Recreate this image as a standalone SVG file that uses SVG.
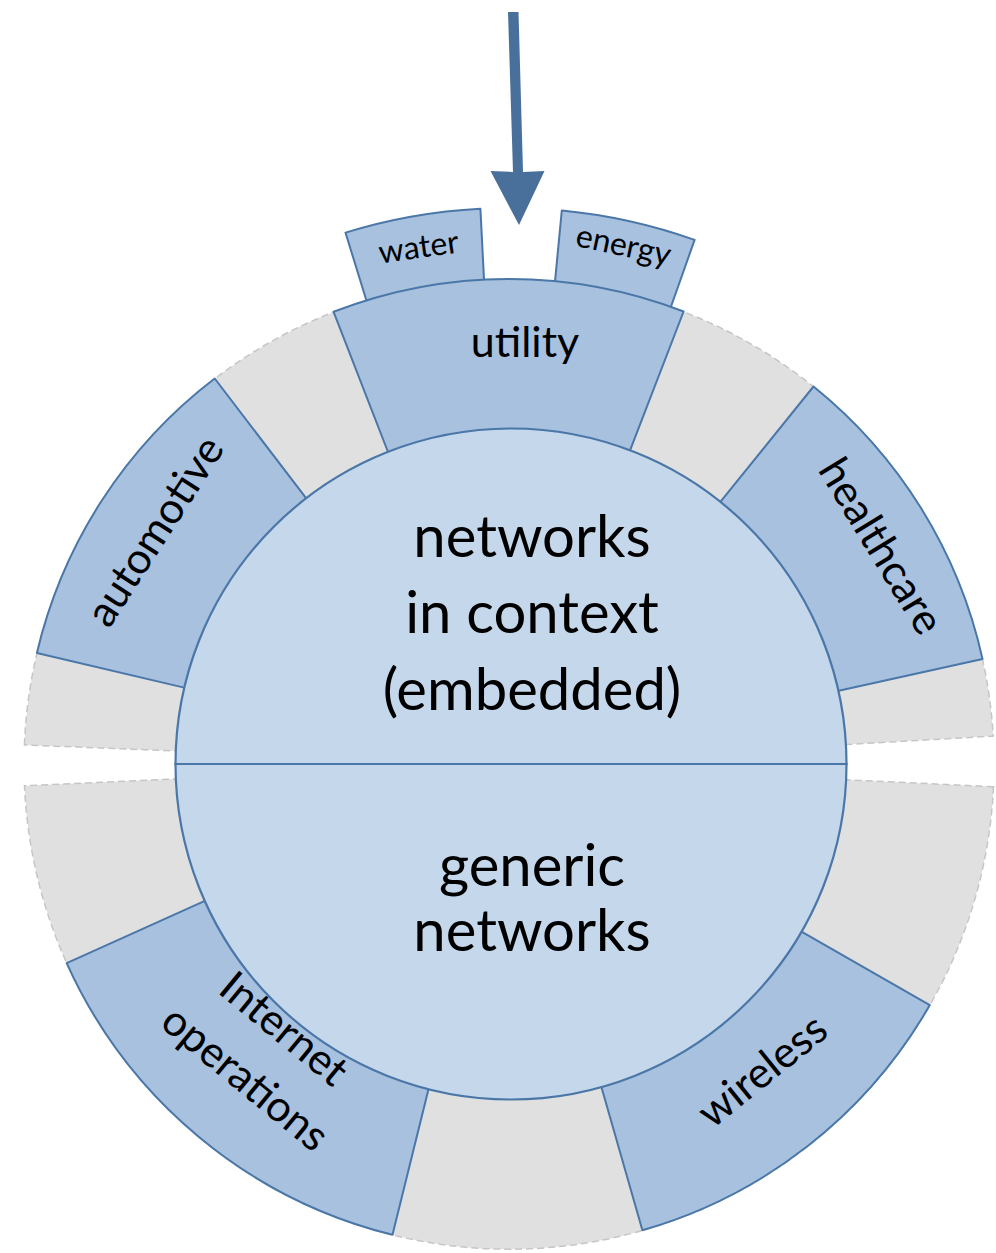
<svg xmlns="http://www.w3.org/2000/svg" width="996" height="1253" viewBox="0 0 996 1253">
<style>
.gray{fill:#e0e0e0;stroke:#c6c6c6;stroke-width:1.5;stroke-dasharray:7 4}
.seg{fill:#a7c1df;stroke:#4a77a8;stroke-width:2;stroke-linejoin:round}
.core{fill:#c5d7eb;stroke:#4a77a8;stroke-width:2.2}
.lbl{font-family:Lato,"Open Sans","Liberation Sans",sans-serif;fill:#000;text-anchor:middle}
.big{font-size:58px}
.mid{font-size:43px}
.sm{font-size:32px}
.arrow{fill:#48709a;stroke:none}
</style>
<rect width="996" height="1253" fill="#fff"/>
<g id="ring-top"><path class="gray" d="M 24.4 745.0 A 485 485 0 0 1 993.2 736.1 L 833.5 745.3 A 325 325 0 0 0 184.25 751.3 Z"/></g>
<g id="ring-bottom"><path class="gray" d="M 993.5 786.7 A 485 485 0 0 1 24.5 785.7 L 184.3 778.5 A 325 325 0 0 0 833.6 779.2 Z"/></g>
<g id="water">
<path class="seg" d="M 345.5 232.6 A 556 556 0 0 1 480.4 208.7 L 484.8 294.6 A 470 470 0 0 0 370.8 314.8 Z"/>
<text class="lbl sm" transform="translate(419,250) rotate(-8)" x="0" y="8">water</text>
</g>
<g id="energy">
<path class="seg" d="M 561.8 210.5 A 556 556 0 0 1 694.6 239.9 L 665.9 321.0 A 470 470 0 0 0 553.6 296.1 Z"/>
<text class="lbl sm" transform="translate(623,248) rotate(12)" x="0" y="8">energy</text>
</g>
<g id="utility">
<path class="seg" d="M 333.6 311.8 A 485 485 0 0 1 683.6 311.5 L 626.0 460.8 A 325 325 0 0 0 391.5 461.0 Z"/>
<text class="lbl mid" x="525" y="357">utility</text>
</g>
<g id="automotive">
<path class="seg" d="M 36.9 653.0 A 485 485 0 0 1 214.7 378.5 L 311.8 505.7 A 325 325 0 0 0 192.6 689.6 Z"/>
<text class="lbl mid" transform="translate(158,533) rotate(-57.2)" x="0" y="11">automotive</text>
</g>
<g id="healthcare">
<path class="seg" d="M 813.5 386.5 A 485 485 0 0 1 982.5 658.9 L 826.3 693.5 A 325 325 0 0 0 713.0 511.0 Z"/>
<text class="lbl mid" transform="translate(878,548) rotate(58.5)" x="0" y="11">healthcare</text>
</g>
<g id="wireless">
<path class="seg" d="M 929.8 1005.1 A 485 485 0 0 1 642.4 1230.3 L 598.4 1076.5 A 325 325 0 0 0 791.0 925.6 Z"/>
<text class="lbl mid" transform="translate(764.5,1073.3) rotate(-38.8)" x="0" y="11">wireless</text>
</g>
<g id="internet-operations">
<path class="seg" d="M 392.5 1234.8 A 485 485 0 0 1 66.7 963.1 L 212.6 897.4 A 325 325 0 0 0 430.9 1079.5 Z"/>
<text class="lbl mid" transform="translate(281.7,1031.5) rotate(39.5)" x="0" y="11">Internet</text>
<text class="lbl mid" transform="translate(243,1081) rotate(39.5)" x="0" y="11">operations</text>
</g>
<g id="embedded">
<path class="core" d="M 175.5 764 A 335.5 335.5 0 0 1 846.5 764 Z"/>
<text class="lbl big"><tspan x="532" y="557">networks</tspan><tspan x="532" y="633">in context</tspan><tspan x="532" y="710">(embedded)</tspan></text>
</g>
<g id="generic">
<path class="core" d="M 175.5 764 A 335.5 335.5 0 0 0 846.5 764 Z"/>
<text class="lbl big"><tspan x="532" y="886">generic</tspan><tspan x="532" y="951">networks</tspan></text>
</g>
<g id="connectors">
<path class="arrow" d="M 508 12 L 518.5 12 L 523 172 L 544.5 171 L 519 225 L 490.5 171 L 513 172 Z"/>
</g>
</svg>
